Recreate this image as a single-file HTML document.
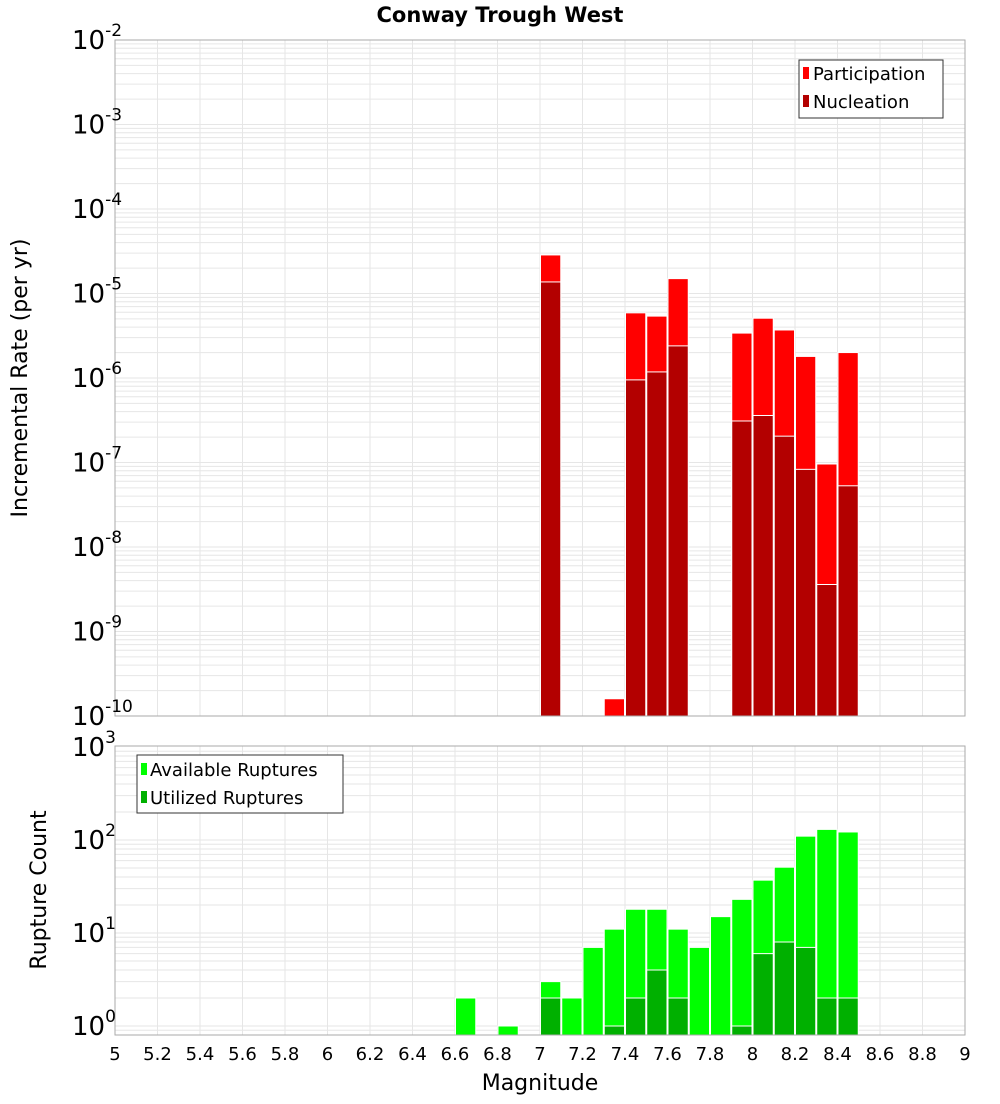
<!DOCTYPE html>
<html><head><meta charset="utf-8"><style>
body{margin:0;background:#fff;font-family:"DejaVu Sans","Liberation Sans",sans-serif}
svg text{font-family:"DejaVu Sans","Liberation Sans",sans-serif}
</style></head><body>
<svg id="c" width="1000" height="1100" viewBox="0 0 1000 1100">
<text x="500" y="22" text-anchor="middle" font-size="21" font-weight="bold">Conway Trough West</text>
<text transform="translate(27,378) rotate(-90)" text-anchor="middle" font-size="22">Incremental Rate (per yr)</text>
<text transform="translate(46,890) rotate(-90)" text-anchor="middle" font-size="22">Rupture Count</text>
<text x="540" y="1090" text-anchor="middle" font-size="22">Magnitude</text>
<g id="grid"></g><g id="bars"></g><g id="axes"></g>
<g>
<rect x="799" y="60" width="144" height="58" fill="#fff" stroke="#333"/>
<rect x="803" y="67" width="6" height="12" fill="#ff0000"/>
<text x="813" y="80" font-size="18">Participation</text>
<rect x="803" y="95" width="6" height="12" fill="#b30000"/>
<text x="813" y="108" font-size="18">Nucleation</text>
</g>
<g>
<rect x="137" y="755" width="206" height="58" fill="#fff" stroke="#333"/>
<rect x="141" y="763" width="6" height="12" fill="#00ff00"/>
<text x="150" y="776" font-size="18">Available Ruptures</text>
<rect x="141" y="791" width="6" height="12" fill="#00b000"/>
<text x="150" y="804" font-size="18">Utilized Ruptures</text>
</g>
</svg>
<script>
const topMags=[7.05,7.35,7.45,7.55,7.65,7.95,8.05,8.15,8.25,8.35,8.45];
const participation=[2.86e-5,1.6e-10,5.9e-6,5.4e-6,1.5e-5,3.4e-6,5.1e-6,3.7e-6,1.8e-6,9.6e-8,2.0e-6];
const nucleation=[1.37e-5,0,9.5e-7,1.18e-6,2.4e-6,3.1e-7,3.6e-7,2.05e-7,8.3e-8,3.6e-9,5.3e-8];
const botMags=[6.65,6.85,7.05,7.15,7.25,7.35,7.45,7.55,7.65,7.75,7.85,7.95,8.05,8.15,8.25,8.35,8.45];
const available=[2,1,3,2,7,11,18,18,11,7,15,23,37,51,110,130,122];
const utilized=[0,0,2,0,0,1,2,4,2,0,0,1,6,8,7,2,2];
const xTicks=[5,5.2,5.4,5.6,5.8,6,6.2,6.4,6.6,6.8,7,7.2,7.4,7.6,7.8,8,8.2,8.4,8.6,8.8,9];
const topExps=[-10,-9,-8,-7,-6,-5,-4,-3,-2];
const botExps=[0,1,2,3];

const NS="http://www.w3.org/2000/svg";
const X0=115,X1=965;
const xs=m=>X0+(m-5)/4*(X1-X0);
const T0=40,T1=716,B0=746,B1=1035;
const yT=v=>T1-(Math.log10(v)+10)*84.5;
const yB=v=>1026-Math.log10(v)*93;
function mk(p,tag,a){const e=document.createElementNS(NS,tag);for(const k in a)e.setAttribute(k,a[k]);p.appendChild(e);return e;}
const grid=document.getElementById('grid'),bars=document.getElementById('bars'),axes=document.getElementById('axes');
// grids
for(const t of xTicks){
  for(const [a,b] of [[T0,T1],[B0,B1]]){
    const l=mk(grid,'line',{x1:xs(t),x2:xs(t),y1:a,y2:b,stroke:'#e6e6e6'});
    
    
  }
}
for(let e=-10;e<-2;e++)for(let k=1;k<10;k++){const y=yT(k*Math.pow(10,e));
  const l=mk(grid,'line',{x1:X0,x2:X1,y1:y,y2:y,stroke:'#e6e6e6'});
  
  }
for(let e=-1;e<3;e++)for(let k=1;k<10;k++){const y=yB(k*Math.pow(10,e));if(y>B1||y<B0)continue;
  const l=mk(grid,'line',{x1:X0,x2:X1,y1:y,y2:y,stroke:'#e6e6e6'});
  
  }
// bars
const w=(X1-X0)/40;
function bar(m,v,yf,base,col,name){if(!(v>0))return;const y=Math.max(yf(v),0);
  const r=mk(bars,'rect',{x:xs(m)-w/2+0.5,y:y,width:w-1,height:base-y,fill:col,stroke:'#fff','stroke-width':1});
  
  }
topMags.forEach((m,i)=>{bar(m,participation[i],yT,T1,'#ff0000','participation-bar');bar(m,nucleation[i],yT,T1,'#b30000','nucleation-bar');});
botMags.forEach((m,i)=>{bar(m,available[i],yB,B1,'#00ff00','available-bar');bar(m,utilized[i],yB,B1,'#00b000','utilized-bar');});
// frames
for(const [a,b,n] of [[T0,T1,'top-plot-frame'],[B0,B1,'bottom-plot-frame']]){
  const r=mk(axes,'rect',{x:X0,y:a,width:X1-X0,height:b-a,fill:'none',stroke:'#aaa'});
  
  
}
for(const t of xTicks){const tx=mk(axes,'text',{x:xs(t),y:1060,'text-anchor':'middle','font-size':18});tx.textContent=String(t);
  
  }
function ylab(y,e,name){const tx=mk(axes,'text',{x:72,y:y+9,'font-size':26});
  
  
  tx.textContent='10';const s=mk(tx,'tspan',{dy:-13,'font-size':17});s.textContent=String(e);}
topExps.forEach(e=>ylab(yT(Math.pow(10,e)),e,'top-y-tick-label'));
botExps.forEach(e=>ylab(yB(Math.pow(10,e)),e,'bottom-y-tick-label'));
</script>
</body></html>
